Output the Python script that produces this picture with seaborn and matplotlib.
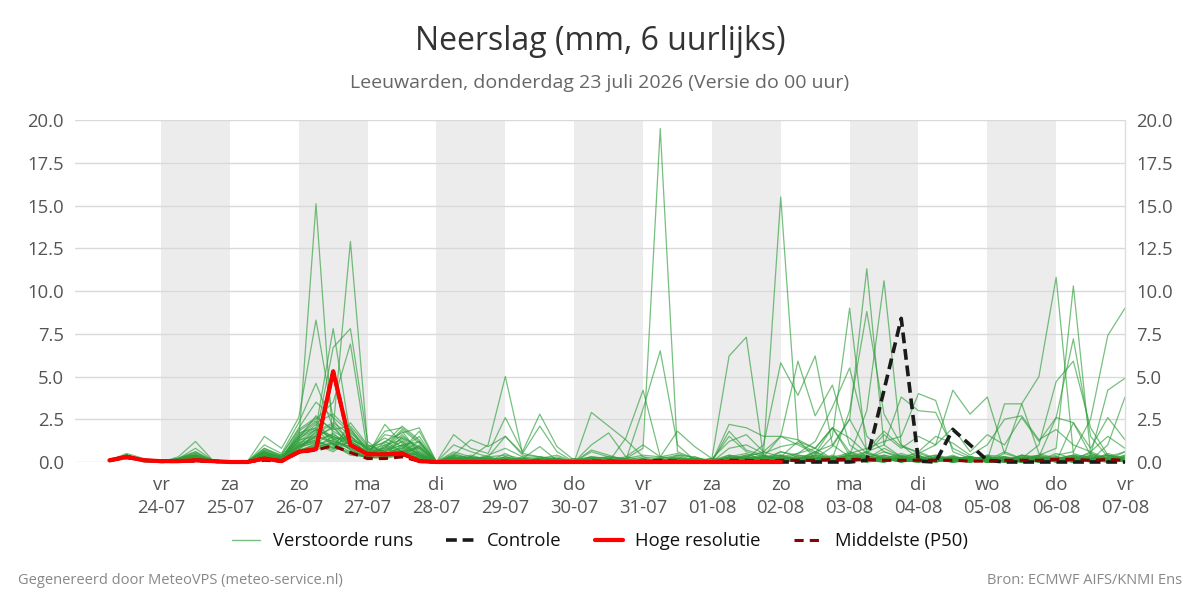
import pandas as pd
import matplotlib
matplotlib.use("Agg")
import matplotlib.pyplot as plt
from matplotlib.lines import Line2D
import seaborn as sns

# 6-hourly steps, first value 23-07 06:00, last 07-08 00:00
times = pd.date_range("2026-07-23 06:00", periods=60, freq="6h")

day_names = ["vr", "za", "zo", "ma", "di", "wo", "do", "vr", "za", "zo", "ma", "di", "wo", "do", "vr"]
day_dates = ["24-07", "25-07", "26-07", "27-07", "28-07", "29-07", "30-07", "31-07",
             "01-08", "02-08", "03-08", "04-08", "05-08", "06-08", "07-08"]

# hoge resolutie (runs 10 days)
hres = [0.1, 0.3, 0.1, 0.05, 0.05, 0.1, 0.05, 0.0, 0.0, 0.2, 0.05, 0.6,
        0.75, 5.3, 1.0, 0.45, 0.45, 0.5, 0.05, 0.0, 0.0, 0.0, 0.0, 0.0,
        0.0, 0.0, 0.0, 0.0, 0.0, 0.0, 0.0, 0.0, 0.0, 0.0, 0.0, 0.0,
        0.0, 0.0, 0.0, 0.0]

controle = [0.1, 0.3, 0.1, 0.05, 0.05, 0.1, 0.05, 0.0, 0.0, 0.2, 0.05, 0.6,
            0.75, 5.3, 1.0, 0.45, 0.45, 0.5, 0.05, 0.0, 0.0, 0.0, 0.0, 0.0,
            0.0, 0.0, 0.0, 0.0, 0.0, 0.0, 0.0, 0.0, 0.0, 0.0, 0.0, 0.0,
            0.0, 0.0, 0.0, 0.0, 0.0, 0.0, 0.0, 0.0, 0.1, 4.2, 8.4, 0.05,
            0.0, 1.9, 1.0, 0.1, 0.0, 0.0, 0.0, 0.0, 0.0, 0.0, 0.0, 0.0]

p50 = [0.1, 0.25, 0.1, 0.02, 0.03, 0.05, 0.02, 0.0, 0.0, 0.1, 0.05, 0.55,
       0.7, 0.95, 0.55, 0.2, 0.2, 0.3, 0.05, 0.0, 0.02, 0.02, 0.02, 0.05,
       0.02, 0.05, 0.02, 0.0, 0.05, 0.05, 0.02, 0.05, 0.1, 0.05, 0.02, 0.0,
       0.1, 0.1, 0.05, 0.1, 0.1, 0.1, 0.15, 0.15, 0.15, 0.1, 0.1, 0.1,
       0.1, 0.1, 0.05, 0.05, 0.1, 0.1, 0.1, 0.15, 0.15, 0.1, 0.15, 0.1]

# verstoorde runs
m01 = [0.1, 0.4, 0.1, 0.0, 0.1, 0.3, 0.0, 0.0, 0.0, 0.4, 0.2, 1.2,
       15.1, 1.0, 0.4, 0.3, 0.5, 0.8, 0.2, 0.0, 0.3, 0.1, 0.0, 0.2,
       0.1, 0.0, 0.1, 0.0, 0.3, 0.2, 0.0, 0.0, 0.1, 0.0, 0.0, 0.0,
       0.3, 0.5, 0.1, 0.0, 0.2, 0.4, 0.1, 0.0, 0.3, 0.2, 0.0, 0.1,
       0.2, 0.0, 0.1, 0.3, 0.1, 0.0, 0.4, 0.2, 0.0, 0.1, 0.5, 0.2]
m02 = [0.1, 0.3, 0.1, 0.0, 0.2, 0.6, 0.1, 0.0, 0.0, 0.8, 0.3, 0.9,
       1.5, 2.0, 12.9, 1.0, 0.6, 1.2, 0.4, 0.0, 0.5, 0.2, 0.1, 0.3,
       0.0, 0.2, 0.1, 0.0, 0.0, 0.1, 0.3, 0.1, 0.0, 0.2, 0.0, 0.0,
       0.1, 0.0, 0.2, 0.6, 0.3, 0.1, 0.0, 0.5, 0.2, 0.8, 0.3, 0.1,
       0.0, 0.2, 0.3, 0.1, 0.6, 0.2, 0.0, 0.1, 0.3, 0.2, 0.0, 0.4]
m03 = [0.1, 0.5, 0.2, 0.0, 0.3, 1.2, 0.1, 0.0, 0.0, 1.5, 0.8, 2.6,
       8.3, 2.5, 1.0, 0.5, 1.8, 2.0, 1.2, 0.0, 0.2, 0.4, 0.1, 0.0,
       0.2, 0.1, 0.0, 0.0, 0.1, 0.0, 0.2, 0.0, 0.0, 0.4, 0.1, 0.0,
       0.2, 0.1, 0.0, 0.3, 0.1, 0.6, 0.2, 0.0, 0.1, 0.3, 0.0, 0.2,
       0.1, 0.3, 0.0, 0.2, 0.1, 0.4, 0.2, 0.0, 0.3, 0.1, 0.2, 0.0]
m04 = [0.1, 0.4, 0.1, 0.0, 0.1, 0.4, 0.0, 0.0, 0.0, 0.6, 0.3, 1.5,
       2.0, 7.8, 1.5, 0.8, 0.6, 1.0, 0.5, 0.0, 0.1, 0.3, 0.0, 0.5,
       0.0, 0.1, 0.3, 0.0, 0.0, 0.2, 0.1, 0.0, 0.0, 0.0, 0.2, 0.1,
       0.0, 0.3, 0.1, 0.2, 0.0, 0.1, 0.4, 0.0, 0.2, 0.1, 0.3, 0.0,
       0.2, 0.1, 0.0, 0.3, 0.0, 0.2, 0.1, 0.5, 0.2, 0.0, 0.1, 0.3]
m05 = [0.1, 0.3, 0.1, 0.0, 0.2, 0.3, 0.1, 0.0, 0.0, 0.2, 0.4, 0.8,
       1.5, 6.7, 7.8, 1.2, 0.4, 0.9, 0.3, 0.0, 0.0, 0.1, 0.3, 0.0,
       0.1, 0.0, 0.0, 0.1, 0.2, 0.0, 0.0, 0.0, 0.3, 0.1, 0.0, 0.2,
       0.1, 0.2, 0.0, 0.0, 0.3, 0.2, 0.1, 0.6, 0.1, 0.0, 0.2, 0.4,
       0.0, 0.3, 0.2, 0.0, 0.1, 0.0, 0.2, 0.1, 0.4, 0.3, 0.0, 0.1]
m06 = [0.1, 0.4, 0.1, 0.0, 0.1, 0.2, 0.0, 0.0, 0.0, 0.4, 0.2, 1.8,
       2.5, 3.5, 6.9, 0.6, 0.3, 1.5, 0.8, 0.0, 0.2, 0.0, 0.1, 0.0,
       0.3, 0.0, 0.2, 0.0, 0.0, 0.1, 0.0, 0.2, 0.0, 0.1, 0.0, 0.0,
       0.2, 0.0, 0.4, 0.1, 0.0, 0.2, 0.0, 0.1, 0.5, 0.2, 0.1, 0.0,
       0.3, 0.1, 0.0, 0.2, 0.1, 0.3, 0.0, 0.2, 0.1, 0.6, 0.2, 0.0]
m07 = [0.1, 0.3, 0.0, 0.0, 0.2, 0.8, 0.1, 0.0, 0.0, 1.0, 0.5, 2.3,
       4.6, 2.0, 1.0, 0.4, 2.2, 1.1, 0.3, 0.0, 0.1, 0.0, 0.2, 0.1,
       0.0, 0.1, 0.0, 0.0, 0.2, 0.0, 0.1, 0.0, 0.0, 0.0, 0.3, 0.0,
       0.1, 0.4, 0.2, 0.0, 0.1, 0.0, 0.3, 0.2, 0.0, 0.1, 0.2, 0.6,
       0.2, 0.0, 0.3, 0.1, 0.0, 0.2, 0.4, 0.1, 0.0, 0.3, 0.1, 0.2]
m08 = [0.1, 0.4, 0.1, 0.0, 0.1, 0.2, 0.0, 0.0, 0.0, 0.3, 0.1, 1.0,
       1.2, 0.8, 2.3, 1.0, 0.5, 0.7, 0.2, 0.0, 0.2, 0.1, 0.0, 0.3,
       0.1, 0.0, 0.2, 0.0, 0.1, 0.3, 0.2, 0.8, 19.5, 0.6, 0.2, 0.0,
       0.4, 0.2, 0.0, 0.3, 0.1, 0.0, 0.2, 0.4, 0.1, 0.0, 0.3, 0.1,
       0.0, 0.2, 0.1, 0.4, 0.0, 0.1, 0.3, 0.0, 0.2, 0.5, 0.1, 0.3]
m09 = [0.1, 0.3, 0.1, 0.0, 0.1, 0.1, 0.0, 0.0, 0.0, 0.2, 0.1, 0.6,
       1.0, 1.3, 0.8, 0.4, 0.3, 0.6, 1.2, 0.0, 0.1, 0.3, 0.2, 0.0,
       0.2, 0.0, 0.1, 0.0, 0.0, 0.2, 0.0, 0.0, 0.1, 0.3, 0.1, 0.0,
       0.2, 0.4, 0.5, 15.5, 1.3, 0.2, 0.1, 0.4, 0.0, 0.2, 0.1, 0.0,
       0.3, 0.1, 0.0, 0.2, 0.0, 0.4, 0.1, 0.3, 0.0, 0.2, 0.1, 0.6]
m10 = [0.1, 0.4, 0.1, 0.0, 0.2, 0.4, 0.0, 0.0, 0.0, 0.6, 0.2, 1.4,
       2.7, 1.8, 1.2, 0.6, 0.8, 1.8, 0.5, 0.0, 0.0, 0.2, 0.1, 0.0,
       0.0, 0.3, 0.1, 0.0, 0.2, 0.0, 0.0, 0.1, 0.0, 0.2, 0.0, 0.0,
       0.3, 0.1, 0.0, 0.6, 0.4, 0.2, 0.9, 2.5, 11.3, 1.0, 0.3, 0.2,
       0.1, 0.4, 0.0, 0.2, 0.1, 0.0, 0.3, 0.2, 0.0, 0.4, 0.1, 0.2]
m11 = [0.1, 0.3, 0.1, 0.0, 0.1, 0.3, 0.0, 0.0, 0.0, 0.5, 0.3, 0.7,
       1.8, 2.3, 1.6, 0.3, 1.2, 0.6, 0.9, 0.0, 0.3, 0.1, 0.0, 0.2,
       0.1, 0.0, 0.0, 0.2, 0.0, 0.1, 0.0, 0.0, 0.2, 0.0, 0.1, 0.0,
       0.0, 0.2, 0.3, 0.1, 0.5, 0.8, 0.2, 0.4, 3.0, 10.6, 1.0, 0.5,
       0.2, 0.0, 0.1, 0.3, 0.2, 0.1, 0.0, 0.2, 0.4, 0.0, 0.3, 0.1]
m12 = [0.0, 0.2, 0.1, 0.0, 0.1, 0.1, 0.0, 0.0, 0.0, 0.2, 0.1, 0.5,
       0.9, 1.1, 0.6, 0.2, 0.4, 0.3, 0.6, 0.0, 0.4, 0.2, 0.0, 0.1,
       0.2, 0.0, 0.1, 0.0, 0.0, 0.0, 0.2, 0.0, 0.1, 0.0, 0.0, 0.1,
       0.1, 0.0, 0.2, 0.4, 0.2, 0.6, 0.1, 0.2, 0.0, 0.3, 0.1, 0.2,
       0.4, 0.2, 0.1, 0.0, 0.5, 3.4, 5.0, 10.8, 0.5, 0.2, 0.4, 0.1]
m13 = [0.1, 0.3, 0.1, 0.0, 0.1, 0.2, 0.1, 0.0, 0.0, 0.3, 0.2, 0.6,
       1.1, 0.7, 1.9, 0.8, 0.2, 0.4, 0.3, 0.0, 0.2, 0.0, 0.1, 0.0,
       0.1, 0.2, 0.0, 0.0, 0.1, 0.0, 0.0, 0.2, 0.0, 0.1, 0.0, 0.0,
       0.2, 0.3, 0.0, 0.1, 0.2, 0.0, 0.3, 0.1, 0.6, 0.2, 0.0, 0.3,
       0.1, 0.0, 0.3, 0.2, 0.1, 0.2, 0.4, 0.8, 10.3, 0.5, 0.2, 0.1]
m14 = [0.1, 0.4, 0.1, 0.0, 0.2, 0.5, 0.0, 0.0, 0.0, 0.7, 0.3, 1.1,
       1.4, 2.1, 0.9, 0.5, 0.7, 1.4, 0.6, 0.0, 0.1, 0.2, 0.0, 0.2,
       0.0, 0.1, 0.2, 0.0, 0.0, 0.1, 0.1, 0.0, 0.0, 0.2, 0.1, 0.0,
       0.2, 0.1, 0.3, 0.2, 0.1, 0.4, 1.5, 9.0, 0.5, 0.3, 0.1, 0.0,
       0.2, 0.3, 0.1, 0.0, 0.2, 0.1, 0.3, 0.0, 0.2, 0.1, 0.4, 0.2]
m15 = [0.1, 0.3, 0.1, 0.0, 0.1, 0.2, 0.0, 0.0, 0.0, 0.3, 0.1, 0.9,
       1.6, 1.0, 1.4, 0.7, 0.3, 0.5, 0.4, 0.0, 0.2, 0.1, 0.2, 0.0,
       0.1, 0.0, 0.0, 0.1, 0.0, 0.2, 0.0, 0.1, 0.0, 0.0, 0.2, 0.0,
       0.3, 0.2, 0.1, 0.0, 0.4, 0.3, 0.2, 3.0, 8.8, 2.8, 1.0, 0.2,
       0.1, 0.2, 0.3, 0.0, 0.1, 0.2, 0.0, 0.3, 0.1, 0.2, 0.0, 0.3]
m16 = [0.1, 0.4, 0.1, 0.0, 0.1, 0.3, 0.0, 0.0, 0.0, 0.5, 0.2, 1.3,
       2.2, 1.4, 0.7, 0.2, 0.9, 0.4, 0.2, 0.0, 0.0, 0.3, 0.1, 0.0,
       0.2, 0.1, 0.0, 0.0, 0.2, 0.1, 0.0, 0.0, 0.1, 0.0, 0.2, 0.0,
       0.1, 0.2, 0.4, 0.0, 0.1, 0.2, 0.3, 0.1, 0.2, 0.0, 0.4, 0.1,
       0.3, 0.1, 0.2, 0.0, 0.3, 0.2, 0.1, 0.4, 0.6, 2.5, 7.4, 9.0]
m17 = [0.1, 0.3, 0.1, 0.0, 0.2, 0.4, 0.1, 0.0, 0.0, 0.4, 0.2, 1.0,
       1.3, 1.6, 1.1, 0.4, 0.6, 0.8, 1.5, 0.0, 0.1, 0.0, 0.3, 0.1,
       0.0, 0.2, 0.1, 0.0, 0.0, 0.1, 0.0, 0.0, 0.2, 0.0, 0.1, 0.2,
       6.2, 7.3, 0.3, 0.4, 0.1, 0.2, 0.0, 0.3, 0.1, 0.2, 0.0, 0.3,
       0.1, 0.0, 0.2, 0.1, 0.3, 0.0, 0.2, 0.1, 0.0, 0.3, 0.2, 0.1]
m18 = [0.1, 0.3, 0.1, 0.0, 0.1, 0.2, 0.0, 0.0, 0.0, 0.3, 0.1, 0.5,
       0.8, 1.2, 0.9, 0.3, 0.2, 1.0, 0.4, 0.0, 0.3, 0.1, 0.0, 0.1,
       0.1, 0.0, 0.2, 0.0, 0.1, 0.0, 0.0, 0.1, 0.0, 0.3, 0.0, 0.0,
       0.2, 0.1, 0.0, 0.2, 0.3, 0.1, 0.0, 0.2, 0.4, 0.1, 0.3, 0.0,
       0.2, 0.1, 0.0, 0.3, 0.1, 0.2, 1.0, 4.7, 5.9, 2.0, 0.4, 0.2]
m19 = [0.1, 0.4, 0.1, 0.0, 0.1, 0.3, 0.0, 0.0, 0.0, 0.6, 0.2, 1.6,
       2.4, 1.0, 2.0, 0.5, 0.4, 0.7, 1.8, 0.0, 0.0, 0.2, 0.1, 0.0,
       0.2, 0.0, 0.1, 0.0, 0.0, 0.0, 0.1, 0.0, 0.0, 0.1, 0.2, 0.0,
       0.1, 0.0, 0.3, 0.1, 0.2, 0.0, 0.2, 0.3, 0.1, 0.4, 0.2, 0.1,
       0.0, 0.3, 0.1, 0.2, 0.0, 0.4, 0.3, 2.6, 7.2, 1.5, 0.3, 0.6]
m20 = [0.1, 0.3, 0.1, 0.0, 0.1, 0.2, 0.0, 0.0, 0.0, 0.4, 0.1, 0.7,
       1.0, 0.6, 1.3, 0.9, 0.3, 0.5, 0.2, 0.0, 0.2, 0.0, 0.0, 0.1,
       0.0, 0.1, 0.0, 0.0, 0.2, 0.3, 0.1, 3.1, 6.5, 1.0, 0.1, 0.0,
       0.2, 0.0, 0.1, 0.4, 0.0, 0.2, 0.1, 0.0, 0.3, 0.1, 0.2, 0.0,
       0.1, 0.2, 0.0, 0.1, 0.3, 0.0, 0.1, 0.2, 0.3, 0.0, 0.1, 0.4]
m21 = [0.1, 0.4, 0.1, 0.0, 0.2, 0.6, 0.0, 0.0, 0.0, 0.8, 0.4, 2.0,
       3.5, 2.6, 1.7, 0.8, 1.4, 0.9, 0.3, 0.0, 0.4, 0.2, 0.1, 0.0,
       0.1, 0.0, 0.0, 0.1, 0.3, 0.0, 1.4, 4.2, 0.3, 0.2, 0.0, 0.0,
       0.1, 0.3, 0.0, 0.1, 0.2, 0.5, 0.1, 0.0, 0.2, 0.0, 0.3, 0.1,
       0.2, 0.0, 0.1, 0.2, 0.0, 0.1, 0.3, 0.1, 0.2, 0.0, 0.2, 0.1]
m22 = [0.1, 0.3, 0.1, 0.0, 0.1, 0.4, 0.1, 0.0, 0.0, 0.5, 0.2, 1.2,
       1.9, 1.5, 1.0, 0.5, 0.8, 1.6, 0.7, 0.0, 0.6, 0.3, 1.0, 5.0,
       0.5, 0.3, 0.1, 0.0, 0.0, 0.2, 0.0, 0.1, 0.0, 0.1, 0.0, 0.0,
       0.3, 0.1, 0.2, 0.0, 0.1, 0.3, 0.0, 0.2, 0.1, 0.0, 0.2, 0.1,
       0.1, 0.2, 0.3, 0.0, 0.2, 0.1, 0.0, 0.3, 0.2, 0.1, 0.0, 0.2]
m23 = [0.1, 0.3, 0.1, 0.0, 0.1, 0.2, 0.0, 0.0, 0.0, 0.3, 0.2, 0.8,
       1.2, 0.9, 0.5, 0.3, 0.5, 0.6, 0.4, 0.0, 0.1, 0.0, 0.2, 0.0,
       0.0, 0.1, 0.2, 0.0, 0.0, 0.1, 0.0, 0.0, 0.1, 0.2, 0.0, 0.1,
       0.4, 0.2, 1.0, 5.8, 3.9, 6.2, 1.0, 0.3, 0.2, 0.4, 0.1, 0.0,
       0.2, 0.1, 0.3, 0.0, 0.1, 0.2, 0.0, 0.1, 0.3, 0.2, 0.0, 0.1]
m24 = [0.1, 0.4, 0.1, 0.0, 0.1, 0.3, 0.0, 0.0, 0.0, 0.4, 0.3, 1.1,
       1.7, 2.2, 1.2, 0.6, 0.4, 0.5, 0.9, 0.0, 0.2, 0.1, 0.0, 0.3,
       0.1, 0.2, 0.0, 0.0, 0.1, 0.0, 0.0, 0.2, 0.0, 0.0, 0.1, 0.0,
       0.2, 0.3, 0.6, 1.5, 5.9, 2.7, 4.5, 1.0, 0.3, 0.1, 0.2, 0.4,
       0.0, 0.2, 0.1, 0.3, 0.2, 0.0, 0.1, 0.2, 0.4, 0.1, 0.3, 0.0]
m25 = [0.1, 0.3, 0.1, 0.0, 0.2, 0.4, 0.0, 0.0, 0.0, 0.6, 0.2, 1.7,
       2.0, 1.3, 1.5, 0.7, 1.0, 1.3, 0.5, 0.0, 0.0, 0.2, 0.1, 0.0,
       0.2, 0.0, 0.1, 0.0, 0.0, 0.1, 0.1, 0.0, 0.0, 0.1, 0.0, 0.2,
       0.1, 0.2, 0.0, 0.3, 0.5, 1.2, 3.2, 5.5, 1.5, 0.6, 0.2, 0.1,
       0.3, 0.0, 0.2, 0.1, 0.0, 0.3, 0.2, 0.0, 0.1, 0.2, 0.1, 0.3]
m26 = [0.1, 0.3, 0.1, 0.0, 0.1, 0.2, 0.0, 0.0, 0.0, 0.3, 0.1, 0.6,
       0.7, 1.1, 0.8, 0.2, 0.3, 0.4, 0.2, 0.0, 0.1, 0.2, 0.0, 0.1,
       0.0, 0.1, 0.0, 0.2, 0.0, 0.0, 0.2, 0.0, 0.1, 0.0, 0.0, 0.1,
       0.2, 0.0, 0.1, 0.3, 0.1, 0.0, 0.2, 0.1, 0.3, 0.2, 0.5, 0.2,
       0.4, 0.1, 0.3, 0.1, 3.4, 3.4, 0.5, 0.2, 0.1, 0.3, 0.2, 0.1]
m27 = [0.1, 0.4, 0.1, 0.0, 0.1, 0.3, 0.0, 0.0, 0.0, 0.5, 0.3, 1.4,
       1.9, 1.0, 1.1, 0.4, 0.7, 1.2, 0.4, 0.0, 0.3, 0.1, 0.0, 0.0,
       0.1, 0.0, 0.1, 0.0, 0.2, 0.0, 0.0, 0.1, 0.0, 0.2, 0.1, 0.0,
       0.0, 0.2, 0.1, 0.2, 0.0, 0.3, 0.1, 0.4, 0.2, 0.6, 0.3, 0.5,
       1.0, 4.2, 2.8, 3.8, 0.5, 0.2, 0.1, 0.3, 0.0, 0.2, 0.4, 0.1]
m28 = [0.1, 0.3, 0.1, 0.0, 0.1, 0.2, 0.0, 0.0, 0.0, 0.2, 0.1, 0.9,
       1.3, 0.8, 0.6, 0.3, 0.5, 0.3, 1.0, 0.0, 0.0, 0.1, 0.2, 0.0,
       0.0, 0.2, 0.0, 0.0, 0.0, 0.1, 0.0, 0.0, 0.2, 0.0, 0.1, 0.0,
       0.1, 0.3, 0.2, 0.0, 0.2, 0.1, 0.3, 0.5, 0.8, 1.2, 1.5, 4.0,
       3.6, 0.6, 0.2, 0.1, 0.0, 0.3, 0.1, 0.2, 0.0, 0.1, 0.3, 0.2]
m29 = [0.1, 0.4, 0.1, 0.0, 0.2, 0.5, 0.1, 0.0, 0.0, 0.7, 0.4, 1.9,
       2.6, 1.9, 2.1, 0.9, 1.1, 2.1, 1.3, 0.0, 0.1, 0.3, 0.0, 0.1,
       0.1, 0.0, 0.2, 0.0, 0.1, 0.0, 0.0, 0.0, 0.1, 0.0, 0.2, 0.0,
       0.2, 0.1, 0.0, 0.2, 0.1, 0.4, 0.2, 0.3, 0.6, 1.0, 3.8, 3.0,
       2.9, 0.8, 0.3, 0.1, 0.2, 0.0, 0.2, 0.1, 0.3, 0.1, 0.0, 0.2]
m30 = [0.1, 0.3, 0.1, 0.0, 0.1, 0.3, 0.0, 0.0, 0.0, 0.4, 0.2, 1.3,
       1.5, 1.2, 0.9, 0.6, 0.7, 1.0, 1.2, 0.0, 1.6, 0.8, 0.5, 2.6,
       0.6, 2.8, 0.9, 0.1, 0.3, 0.2, 0.0, 0.1, 0.2, 0.0, 0.1, 0.0,
       2.2, 2.0, 1.5, 1.5, 1.3, 0.8, 2.0, 0.6, 0.3, 0.2, 0.4, 0.1,
       0.2, 0.3, 0.1, 0.0, 0.2, 0.1, 0.3, 0.2, 0.1, 0.4, 0.2, 0.0]
m31 = [0.1, 0.4, 0.1, 0.0, 0.1, 0.2, 0.0, 0.0, 0.0, 0.3, 0.1, 0.9,
       1.1, 1.7, 0.7, 0.3, 1.0, 0.6, 0.8, 0.0, 0.4, 1.3, 0.9, 1.5,
       0.4, 0.3, 0.2, 0.0, 2.9, 2.1, 1.3, 0.3, 0.0, 0.2, 0.1, 0.0,
       1.8, 0.7, 0.4, 0.2, 0.1, 0.0, 0.2, 0.1, 0.3, 0.2, 0.0, 0.2,
       0.1, 0.2, 0.3, 0.0, 0.1, 0.2, 0.0, 0.2, 0.3, 0.1, 1.0, 3.8]
m32 = [0.1, 0.3, 0.1, 0.0, 0.2, 0.4, 0.0, 0.0, 0.0, 0.6, 0.3, 1.0,
       1.9, 1.4, 1.3, 0.5, 1.6, 1.4, 0.9, 0.0, 1.0, 0.6, 0.3, 1.5,
       0.5, 2.1, 0.6, 0.0, 1.0, 1.7, 0.3, 1.0, 0.3, 0.5, 0.2, 0.1,
       1.5, 0.6, 0.3, 1.5, 1.0, 0.5, 2.0, 0.4, 0.3, 0.2, 0.1, 0.3,
       0.2, 0.0, 0.1, 0.4, 0.3, 0.1, 0.2, 0.0, 2.3, 0.4, 4.2, 4.9]
m33 = [0.1, 0.3, 0.1, 0.0, 0.1, 0.2, 0.0, 0.0, 0.0, 0.3, 0.2, 0.7,
       0.9, 1.5, 1.0, 0.4, 0.9, 1.9, 1.1, 0.0, 0.2, 0.1, 0.4, 0.8,
       0.3, 0.2, 0.4, 0.0, 0.6, 0.3, 0.2, 0.4, 0.3, 1.8, 0.9, 0.2,
       1.2, 1.6, 0.6, 0.3, 1.2, 0.8, 2.0, 1.4, 0.5, 1.6, 0.8, 1.5,
       1.0, 2.0, 0.6, 1.6, 1.0, 2.6, 1.2, 2.6, 2.3, 0.8, 2.6, 1.3]
m34 = [0.1, 0.4, 0.1, 0.0, 0.1, 0.3, 0.0, 0.0, 0.0, 0.5, 0.2, 1.5,
       2.3, 2.8, 1.8, 0.7, 1.2, 1.7, 2.0, 0.0, 0.3, 0.2, 0.3, 0.4,
       0.2, 0.9, 0.1, 0.0, 0.7, 0.4, 0.1, 0.3, 0.2, 0.4, 0.3, 0.0,
       0.8, 1.0, 0.5, 0.9, 1.1, 0.6, 1.0, 2.5, 0.7, 1.8, 0.9, 0.6,
       1.5, 1.1, 0.4, 1.0, 2.5, 2.7, 1.3, 1.9, 1.0, 0.6, 1.5, 0.8]

members = [m01, m02, m03, m04, m05, m06, m07, m08, m09, m10, m11, m12,
           m13, m14, m15, m16, m17, m18, m19, m20, m21, m22, m23, m24,
           m25, m26, m27, m28, m29, m30, m31, m32, m33, m34]

ens = pd.concat(
    [pd.DataFrame({"time": times, "mm": vals, "run": k}) for k, vals in enumerate(members)],
    ignore_index=True,
)

green = "#2e9e3a"

sns.set_style("white")
plt.rcParams["font.family"] = ["Open Sans", "DejaVu Sans"]

fig = plt.figure(figsize=(12, 6), dpi=100)
ax = fig.add_axes([75 / 1200, 1 - 462 / 600, 1050 / 1200, 342 / 600])

# alternating day shading
day_ticks = pd.to_datetime([d + "-2026" for d in day_dates], format="%d-%m-%Y")
for k in range(0, len(day_ticks) - 1, 2):
    ax.axvspan(day_ticks[k], day_ticks[k + 1], color="#ececec", lw=0, zorder=0)

sns.lineplot(data=ens, x="time", y="mm", units="run", estimator=None,
             color=green, alpha=0.65, lw=0.9, ax=ax, legend=False, clip_on=False)
sns.lineplot(x=times, y=controle, color="#1a1a1a", lw=2.6, linestyle=(0, (3, 1.6)),
             ax=ax, clip_on=False, zorder=4)
sns.lineplot(x=times, y=p50, color="#8b0000", lw=2.2, linestyle=(0, (3, 2)),
             ax=ax, clip_on=False, zorder=5)
sns.lineplot(x=times[:len(hres)], y=hres, color="#ff0000", lw=3, ax=ax,
             clip_on=False, zorder=6)

ax.set_xlim(pd.Timestamp("2026-07-22 18:00"), pd.Timestamp("2026-08-07 00:00"))
ax.set_ylim(0, 20)
ax.set_yticks([0, 2.5, 5, 7.5, 10, 12.5, 15, 17.5, 20])
ax.set_yticklabels([f"{v:.1f}" for v in ax.get_yticks()])
ax.set_xticks(day_ticks)
ax.set_xticklabels([f"{n}\n{d}" for n, d in zip(day_names, day_dates)], linespacing=1.35)
ax.set_xlabel("")
ax.set_ylabel("")

ax.set_axisbelow(True)
ax.grid(axis="y", color="#d9d9d9", lw=1)
ax.grid(axis="x", visible=False)
ax.tick_params(axis="x", length=7, width=2, color="#777777", labelsize=13.3,
               labelcolor="#555555", pad=3)
ax.tick_params(axis="y", length=0, labelsize=13.3, labelcolor="#555555",
               labelright=True, pad=8)
for side in ["left", "top", "bottom"]:
    ax.spines[side].set_visible(False)
ax.spines["right"].set_color("#dddddd")
ax.spines["right"].set_linewidth(1)

fig.text(0.5, 1 - 41 / 600, "Neerslag (mm, 6 uurlijks)", ha="center", va="center",
         fontsize=23, color="#333333")
fig.text(0.5, 1 - 83 / 600, "Leeuwarden, donderdag 23 juli 2026 (Versie do 00 uur)",
         ha="center", va="center", fontsize=14, color="#666666")

handles = [
    Line2D([], [], color=green, alpha=0.65, lw=1),
    Line2D([], [], color="#1a1a1a", lw=2.6, linestyle=(0, (3, 1.6))),
    Line2D([], [], color="#ff0000", lw=3),
    Line2D([], [], color="#8b0000", lw=2.2, linestyle=(0, (3, 2))),
]
labels = ["Verstoorde runs", "Controle", "Hoge resolutie", "Middelste (P50)"]
fig.legend(handles, labels, loc="center", bbox_to_anchor=(0.5, 1 - 541 / 600), ncol=4,
           frameon=False, fontsize=13.3, handlelength=1.5, handletextpad=0.7,
           columnspacing=1.8, labelcolor="#111111")

fig.text(18 / 1200, 1 - 580 / 600, "Gegenereerd door MeteoVPS (meteo-service.nl)",
         ha="left", va="center", fontsize=10.5, color="#888888")
fig.text(1182 / 1200, 1 - 580 / 600, "Bron: ECMWF AIFS/KNMI Ens",
         ha="right", va="center", fontsize=10.5, color="#888888")

fig.savefig("out.png", dpi=100)
